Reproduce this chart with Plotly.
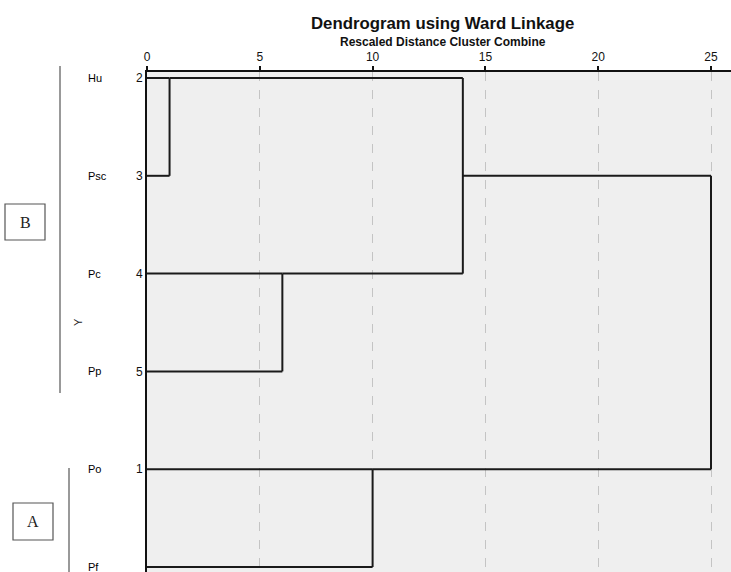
import math
import plotly.graph_objects as go

# ---- data ----
leaf_names = ["Hu", "Psc", "Pc", "Pp", "Po", "Pf"]
case_numbers = ["2", "3", "4", "5", "1", "6"]
# merges: (child A, child B, rescaled distance, new cluster name)
merge_a = ["Hu", "Pc", "Po", "C1", "C4"]
merge_b = ["Psc", "Pp", "Pf", "C2", "C3"]
merge_dist = [1, 6, 10, 14, 25]
merge_name = ["C1", "C2", "C3", "C4", "C5"]
x_ticks = [0, 5, 10, 15, 20, 25]
group_labels = ["B", "A"]

# ---- build dendrogram segments ----
nodes = {}
for i, n in enumerate(leaf_names):
    nodes[n] = {"x": 0.0, "y": float(i), "members": [i]}

xs, ys = [], []
for a, b, d, name in zip(merge_a, merge_b, merge_dist, merge_name):
    na, nb = nodes[a], nodes[b]
    xs += [na["x"], d, None, nb["x"], d, None, d, d, None]
    ys += [na["y"], na["y"], None, nb["y"], nb["y"], None, na["y"], nb["y"], None]
    members = na["members"] + nb["members"]
    nodes[name] = {"x": float(d), "y": float(math.floor(sum(members) / len(members))),
                   "members": members}

# ---- layout geometry (screen pixels) ----
SW, SH = 731, 572
L, T = 147, 72            # plot-area left/top on screen
W, H = SW, SH
plot_w = SW - L
plot_h = SH - T
px_per_unit = (711 - 147) / 25.0
x_max = plot_w / px_per_unit
row_px = (567 - 78) / 5.0
y_top = -(78 - T) / row_px
y_bot = 5 + (SH - 567) / row_px


def fx(p):
    return (p - L) / plot_w


def fy(p):
    return 1 - (p - T) / plot_h


fig = go.Figure()
fig.add_trace(go.Scatter(x=xs, y=ys, mode="lines",
                         line=dict(color="#1a1a1a", width=2),
                         hoverinfo="skip", showlegend=False))

font = "Liberation Sans, Arial, sans-serif"

annotations = [
    dict(text="<b>Dendrogram using Ward Linkage</b>", x=fx(442), y=fy(24),
         font=dict(family=font, size=16.8, color="#111")),
    dict(text="<b>Rescaled Distance Cluster Combine</b>", x=fx(443), y=fy(42),
         font=dict(family=font, size=12, color="#111")),
    dict(text="Y", x=fx(78), y=fy(322), textangle=-90,
         font=dict(family=font, size=11, color="#222")),
]
for i, n in enumerate(leaf_names):
    annotations.append(dict(text=n, x=fx(86), y=i, yref="y", xanchor="left",
                            font=dict(family=font, size=11, color="#000")))
for lab, (cx, cy) in zip(group_labels, [(25, 222), (33, 521)]):
    annotations.append(dict(text=lab, x=fx(cx), y=fy(cy),
                            font=dict(family="Liberation Serif, Times New Roman, serif",
                                      size=16, color="#222")))
for a in annotations:
    a.setdefault("xref", "paper")
    a.setdefault("yref", "paper")
    a.setdefault("xanchor", "center")
    a.setdefault("yanchor", "middle")
    a["showarrow"] = False

shapes = [
    # group bracket lines
    dict(type="line", x0=fx(60), x1=fx(60), y0=fy(66), y1=fy(393)),
    dict(type="line", x0=fx(69), x1=fx(69), y0=fy(468), y1=fy(575)),
    # group boxes
    dict(type="rect", x0=fx(5), x1=fx(45), y0=fy(204), y1=fy(240)),
    dict(type="rect", x0=fx(13), x1=fx(53), y0=fy(503), y1=fy(540)),
]
for s in shapes:
    s.update(xref="paper", yref="paper", line=dict(color="#555", width=1.2))

fig.update_layout(
    width=W, height=H,
    margin=dict(l=L, r=0, t=T, b=0, pad=0),
    paper_bgcolor="white",
    plot_bgcolor="#efefef",
    annotations=annotations,
    shapes=shapes,
    showlegend=False,
    xaxis=dict(side="top", range=[0, x_max], tickvals=x_ticks,
               ticks="outside", ticklen=4, tickcolor="#111", tickwidth=1.5,
               showline=True, linecolor="#111", linewidth=2,
               showgrid=True, gridcolor="#c4c4c4", griddash="dash", gridwidth=1,
               zeroline=False,
               tickfont=dict(family="Liberation Sans Narrow, Liberation Sans, Arial", size=12,
                             color="#111")),
    yaxis=dict(range=[y_bot, y_top], tickvals=list(range(len(leaf_names))),
               ticktext=case_numbers, ticks="", showline=True, linecolor="#111",
               linewidth=2, showgrid=False, zeroline=False, ticklabelstandoff=0,
               tickfont=dict(family="Liberation Sans Narrow, Liberation Sans, Arial", size=12,
                             color="#111")),
)

# remove the default page margin so the figure sits at the window's top-left corner
fig.write_html(
    "out.html",
    config={"displayModeBar": False},
    post_script="document.body.style.margin='0';"
                "document.documentElement.style.overflow='hidden';"
                "document.body.style.overflow='hidden';",
)
